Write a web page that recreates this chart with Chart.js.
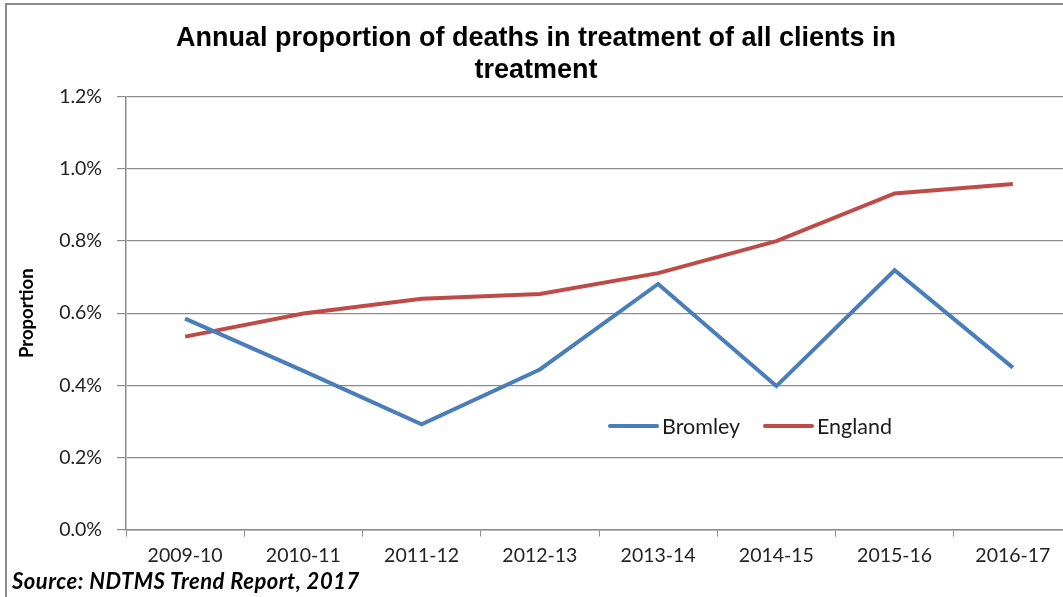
<!DOCTYPE html>
<html>
<head>
<meta charset="utf-8">
<script src="https://cdn.jsdelivr.net/npm/chart.js@4"></script>
<style>
    html, body { margin: 0; padding: 0; background: #fff; overflow: hidden; }
    #frame {
        position: absolute; left: 5px; top: 3px; width: 1100px; height: 620px;
        border-left: 2px solid #8a8a8a; border-top: 2px solid #8a8a8a;
    }
    #wrap { position: absolute; left: 0; top: 0; width: 1080px; height: 597px; }
    #source {
        position: absolute; left: 12px; top: 567px;
        font: italic bold 22px Lato, sans-serif; letter-spacing: 0.5px; color: #000;
    }
</style>
</head>
<body>
<div id="frame"></div>
<div id="wrap"><canvas id="deathsChart" width="1080" height="597"></canvas></div>
<div id="source">Source: NDTMS Trend Report, 2017</div>

<script>
// financial years on the x axis
const years = ['2009-10', '2010-11', '2011-12', '2012-13', '2013-14', '2014-15', '2015-16', '2016-17'];

// % of clients in treatment who died in the year
const bromley = [0.585, 0.44, 0.292, 0.444, 0.681, 0.398, 0.719, 0.449];
const england = [0.535, 0.599, 0.640, 0.653, 0.711, 0.800, 0.932, 0.958];

const yTicks = [0, 0.2, 0.4, 0.6, 0.8, 1.0, 1.2];

const blue = '#4a7ebb';
const red = '#be4b48';
const gridGrey = '#8c8c8c';

// legend sits inside the plot, under the lines
const insideLegend = {
    id: 'insideLegend',
    afterDraw(chart) {
        const ctx = chart.ctx;
        const spots = [{ x: 610, y: 426 }, { x: 765, y: 426 }];
        ctx.save();
        ctx.font = '21.5px Lato, sans-serif';
        ctx.textBaseline = 'middle';
        chart.data.datasets.forEach((ds, i) => {
            const s = spots[i];
            ctx.strokeStyle = ds.borderColor;
            ctx.lineWidth = 4;
            ctx.lineCap = 'round';
            ctx.beginPath();
            ctx.moveTo(s.x, s.y);
            ctx.lineTo(s.x + 47, s.y);
            ctx.stroke();
            ctx.fillStyle = '#1a1a1a';
            ctx.fillText(ds.label, s.x + 52, s.y + 1);
        });
        ctx.restore();
    }
};

new Chart(document.getElementById('deathsChart'), {
    type: 'line',
    data: {
        labels: years,
        datasets: [
            {
                label: 'Bromley',
                data: bromley,
                borderColor: blue,
                borderWidth: 4,
                pointRadius: 0,
                tension: 0
            },
            {
                label: 'England',
                data: england,
                borderColor: red,
                borderWidth: 4,
                pointRadius: 0,
                tension: 0
            }
        ]
    },
    options: {
        responsive: false,
        animation: false,
        layout: { padding: { left: 0, right: 8, top: 0, bottom: 23 } },
        plugins: {
            legend: { display: false },
            tooltip: { enabled: false },
            title: {
                display: true,
                text: ['Annual proportion of deaths in treatment of all clients in', 'treatment'],
                color: '#000',
                font: { family: 'Liberation Sans, Arial, sans-serif', size: 27, weight: 'bold', lineHeight: 1.2 },
                padding: { top: 22, bottom: 10 }
            }
        },
        scales: {
            x: {
                offset: true,
                grid: {
                    offset: true,
                    drawOnChartArea: false,
                    color: gridGrey,
                    tickLength: 7
                },
                border: { color: gridGrey, width: 1.5 },
                ticks: {
                    color: '#222',
                    font: { family: 'Lato', size: 19.5 },
                    padding: 7,
                    maxRotation: 0
                }
            },
            y: {
                min: 0,
                max: 1.2,
                afterBuildTicks(scale) {
                    scale.ticks = yTicks.map(v => ({ value: v }));
                },
                afterFit(scale) {
                    scale.width = 126;
                },
                grid: {
                    color: gridGrey,
                    lineWidth: 1.2,
                    tickLength: 9
                },
                border: { color: gridGrey, width: 1.5 },
                ticks: {
                    color: '#222',
                    font: { family: 'Lato', size: 19.5 },
                    padding: 15,
                    callback: v => v.toFixed(1) + '%'
                },
                title: {
                    display: true,
                    text: 'Proportion',
                    color: '#000',
                    font: { family: 'Lato', size: 18.5, weight: 'bold' },
                    padding: { top: 16, bottom: 0 }
                }
            }
        }
    },
    plugins: [insideLegend]
});
</script>
</body>
</html>
